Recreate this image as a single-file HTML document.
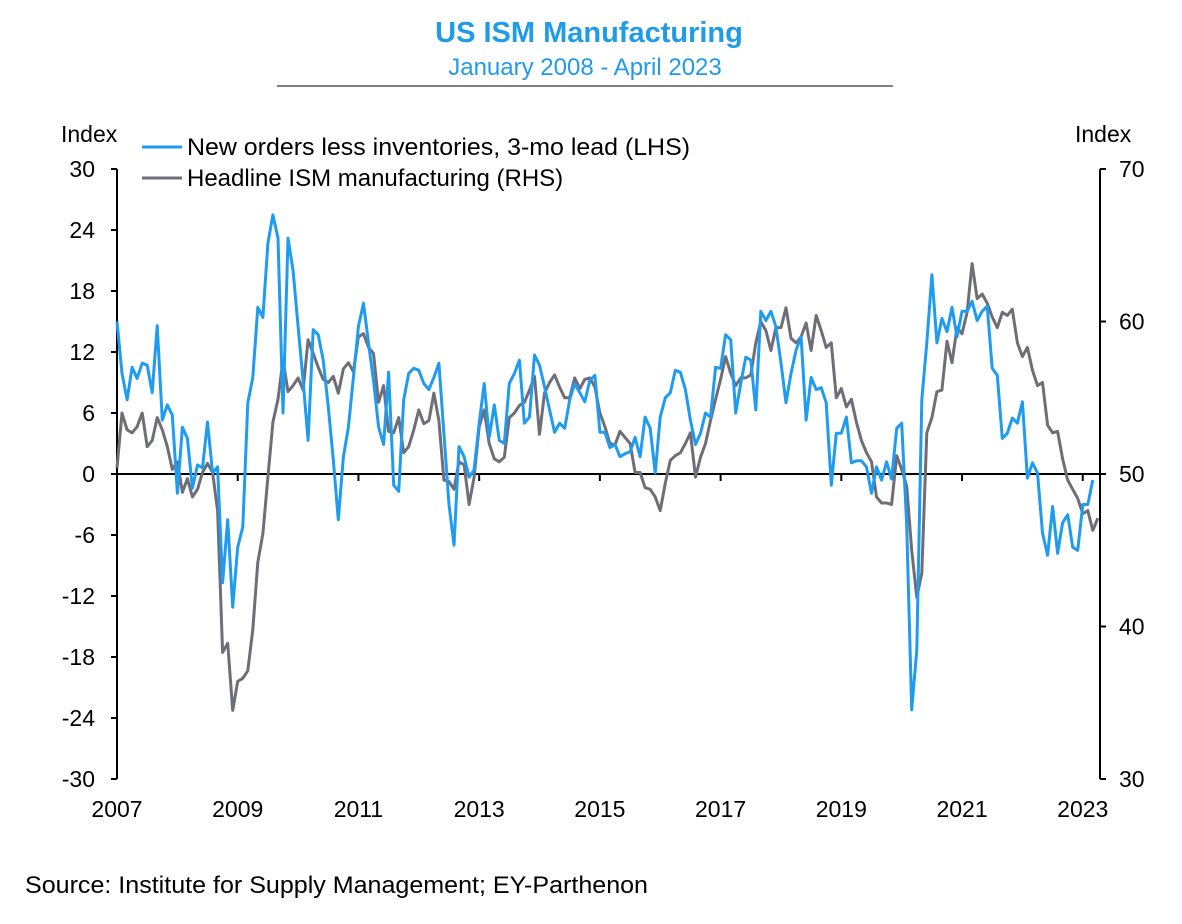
<!DOCTYPE html>
<html><head><meta charset="utf-8"><style>
body{margin:0;background:#fff;font-family:"Liberation Sans",Arial,sans-serif}
svg text{font-family:"Liberation Sans",Arial,sans-serif}
</style></head><body>
<svg id="chart" width="1182" height="919" xmlns="http://www.w3.org/2000/svg">
<text x="589" y="42" text-anchor="middle" font-size="29" font-weight="bold" fill="#1f9be8">US ISM Manufacturing</text>
<text x="585" y="75" text-anchor="middle" font-size="24" fill="#1f9be8">January 2008 - April 2023</text>
<line x1="277" y1="86" x2="893" y2="86" stroke="#000" stroke-width="1"/>
<text x="61" y="142" font-size="23">Index</text>
<text x="1075" y="142" font-size="23">Index</text>
<g id="axes"></g>
<g id="series"></g>
<line x1="142" y1="147" x2="182" y2="147" stroke="#1f9bf0" stroke-width="3"/>
<text x="187" y="155" font-size="24" textLength="503" lengthAdjust="spacingAndGlyphs">New orders less inventories, 3-mo lead (LHS)</text>
<line x1="142" y1="178" x2="182" y2="178" stroke="#6e6e78" stroke-width="3"/>
<text x="187" y="186" font-size="24">Headline ISM manufacturing (RHS)</text>
<text x="25" y="893" font-size="24" textLength="623" lengthAdjust="spacingAndGlyphs">Source: Institute for Supply Management; EY-Parthenon</text>
</svg>
<script>
const leftTicks=[30,24,18,12,6,0,-6,-12,-18,-24,-30];
const rightTicks=[70,60,50,40,30];
const yearLabels=["2007","2009","2011","2013","2015","2017","2019","2021","2023"];
const newOrdersLessInv=[15,9.9,7.3,10.5,9.4,10.9,10.7,8,14.6,5.3,6.8,5.8,-1.9,4.6,3.5,-1.4,0.9,0.6,5.1,0.1,0.7,-10.7,-4.5,-13.1,-7.2,-5.2,7,9.5,16.4,15.4,22.7,25.5,23.2,6,23.2,20,14.5,9.2,3.3,14.2,13.7,11.2,6.6,1.4,-4.5,1.7,4.6,9.5,14.5,16.8,12.9,9.2,4.6,2.9,10,-1.1,-1.7,7.3,9.9,10.4,10.2,8.9,8.3,9.5,10.9,4,-3,-7,2.7,1.7,-0.3,0.4,5,8.9,3.6,6.8,3.3,3,8.9,9.9,11.2,5,5.6,11.7,10.7,8.6,6.3,4.1,5,4.5,7.3,8.9,8,7.1,9.2,9.7,4.1,4.1,2.6,2.9,1.7,2,2.2,3.6,1.7,5.6,4.5,0.1,5.6,7.5,8,10.2,10,8.3,5.3,2.9,4,6,5.6,10.5,10.4,13.7,13.2,6,8.9,11.5,11.2,6.3,16,15.1,16,14.5,10.9,7,9.9,12.2,13.5,5.3,9.5,8.3,8.5,7,-1.1,4,4,5.6,1.1,1.3,1.3,0.7,-1.9,0.7,-0.6,1.2,-0.5,4.5,5,-5,-23.2,-17.3,7.3,12.9,19.6,12.9,15.3,14,16.4,13.5,16,16,17,15.1,16,16.5,10.4,9.7,3.5,4,5.5,5,7.1,-0.4,1.1,0.1,-5.8,-8,-3.2,-7.8,-4.8,-4,-7.2,-7.5,-3,-3,-0.6];
const headlineIsm=[50.4,54,52.9,52.7,53.1,54,51.8,52.2,53.7,52.9,51.8,50.3,50.8,48.8,49.7,48.5,49,50.1,50.7,50.1,47.6,38.3,38.9,34.5,36.4,36.6,37.1,39.8,44.2,46.1,49.8,53.4,54.9,57.5,55.4,55.8,56.3,55.5,58.8,57.9,57,56.2,56,56.4,55.3,56.9,57.3,56.7,59,59.2,58.3,57.9,54.7,55.8,52.8,52.7,53.7,51.4,51.8,52.9,54.2,53.3,53.5,55.3,53.5,49.6,49.5,49,50.8,50.6,48,49.8,53.1,54.2,52,51,50.8,51.1,53.7,54,54.5,54.7,55.5,56.4,52.6,55.3,56,56.5,55.7,55,55,56.3,55.6,56.2,56.3,55.7,54,53.1,52,51.9,52.8,52.4,52,50.1,50.1,49.1,49,48.5,47.6,49.4,50.9,51.2,51.4,52,52.7,49.8,51.1,52,53.5,54.9,56.2,57.7,56.6,55.8,56.3,56.3,56.5,58.6,60,59.4,58.1,59.6,59.6,60.9,58.9,58.6,59,59.9,58.1,60.4,59.4,58.3,58.6,55,55.6,54.4,54.9,53.4,52.2,51.4,50.8,48.5,48.1,48.1,48,51.2,50.3,49.2,45,41.9,43.5,52.7,53.7,55.4,55.5,58.7,57.3,59.6,59.2,60.6,63.8,61.5,61.8,61.2,60.3,59.6,60.6,60.4,60.8,58.6,57.7,58.3,56.8,55.8,56,53.2,52.7,52.8,51,49.6,49,48.4,47.4,47.6,46.3,47.1];
const NS="http://www.w3.org/2000/svg";
const X0=117,X1=1100,YT=169,YB=779,PXM=5.03;
const xM=m=>X0+m*PXM;
const yL=v=>YT+(30-v)/60*(YB-YT);
const yR=v=>YT+(70-v)/40*(YB-YT);
const axes=document.getElementById('axes'),ser=document.getElementById('series');
function mk(tag,attrs,parent){const e=document.createElementNS(NS,tag);for(const k in attrs)e.setAttribute(k,attrs[k]);parent.appendChild(e);return e;}
let e;
e=mk('line',{x1:X0,y1:YT,x2:X0,y2:YB,stroke:'#000','stroke-width':2},axes);


e=mk('line',{x1:X1,y1:YT,x2:X1,y2:YB,stroke:'#000','stroke-width':2},axes);


e=mk('line',{x1:X0,y1:yL(0),x2:X1,y2:yL(0),stroke:'#000','stroke-width':2},axes);


leftTicks.forEach(v=>{const y=yL(v);
 e=mk('line',{x1:X0-6,y1:y,x2:X0,y2:y,stroke:'#000','stroke-width':2},axes);
 
 
 e=mk('text',{x:95,y:y+8,'text-anchor':'end','font-size':23},axes);e.textContent=v;
 
 
});
rightTicks.forEach(v=>{const y=yR(v);
 e=mk('line',{x1:X1,y1:y,x2:X1+6,y2:y,stroke:'#000','stroke-width':2},axes);
 
 
 e=mk('text',{x:1119,y:y+8,'font-size':23},axes);e.textContent=v;
 
 
});
yearLabels.forEach((t,i)=>{const x=xM(i*24);
 e=mk('line',{x1:x,y1:yL(0),x2:x,y2:yL(0)+7,stroke:'#000','stroke-width':2},axes);
 
 
 e=mk('text',{x:x,y:817,'text-anchor':'middle','font-size':23},axes);e.textContent=t;
 
 
});
function line(arr,yf){return arr.map((v,i)=>xM(i).toFixed(1)+','+yf(v).toFixed(1)).join(' ');}
e=mk('polyline',{points:line(headlineIsm,yR),fill:'none',stroke:'#6e6e78','stroke-width':3,'stroke-linejoin':'round'},ser);


e=mk('polyline',{points:line(newOrdersLessInv,yL),fill:'none',stroke:'#1f9bf0','stroke-width':3,'stroke-linejoin':'round'},ser);


</script>
</body></html>
